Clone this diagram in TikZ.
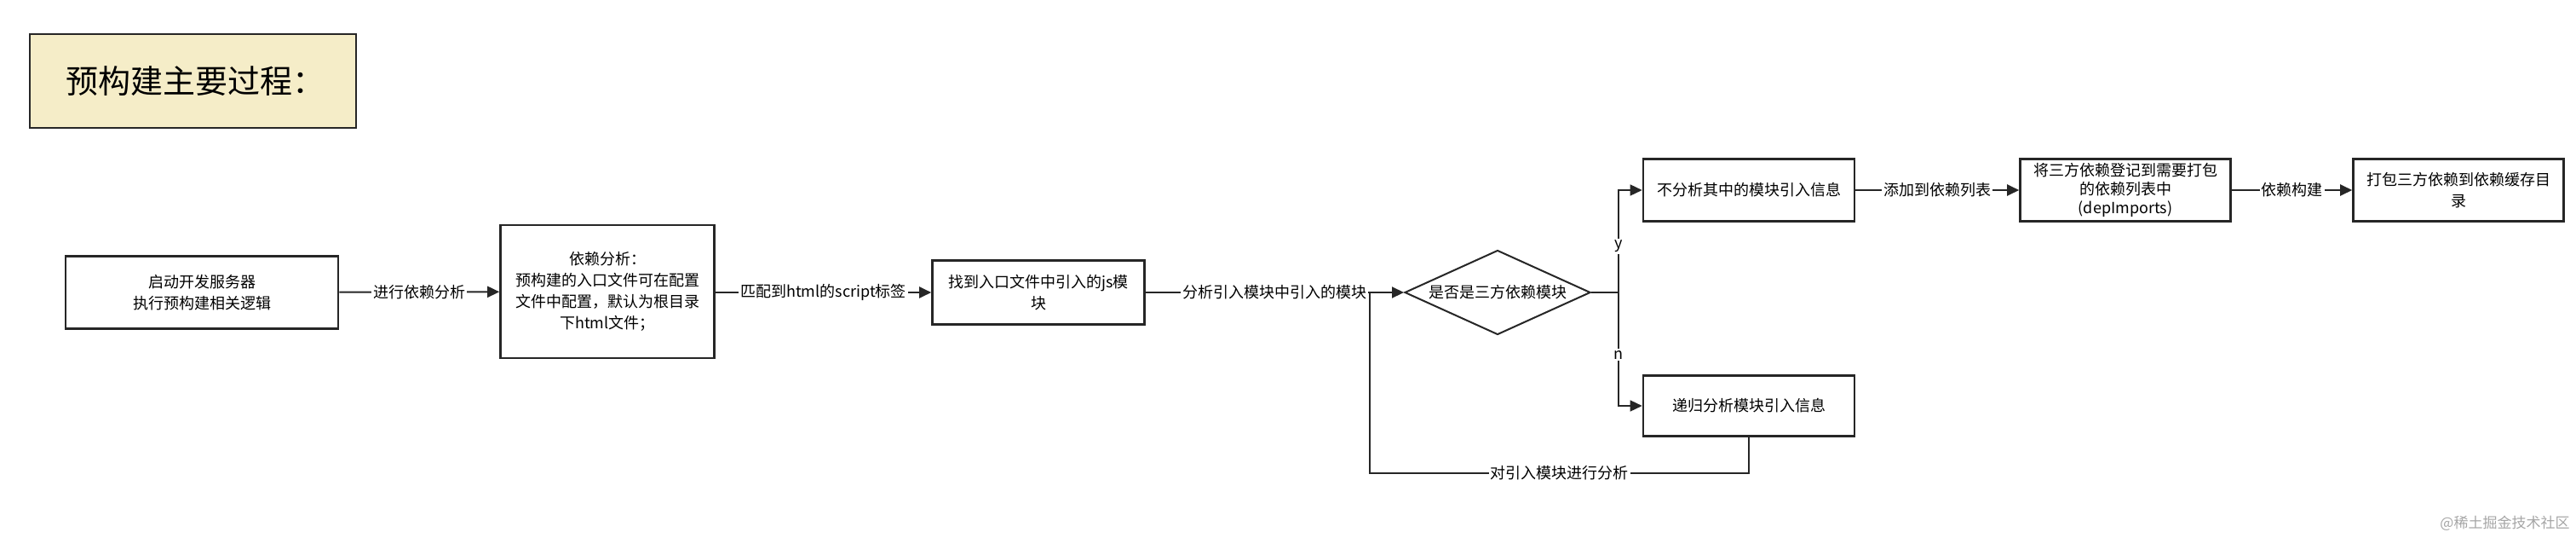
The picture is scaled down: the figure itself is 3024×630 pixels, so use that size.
\documentclass[tikz,border=0pt]{standalone}
\usepackage{fontspec}
\setmainfont{Noto Sans CJK SC}
\usetikzlibrary{shapes.geometric,arrows.meta}
\begin{document}
\begin{tikzpicture}[x=1pt,y=-1pt,
  box/.style={draw=black!85,line width=2.6pt,fill=white,align=center,font=\fontsize{18}{25}\selectfont,inner sep=4pt},
  lbl/.style={fill=white,font=\fontsize{18}{22}\selectfont,inner sep=2pt},
  arr/.style={line width=2pt,draw=black!85,-{Triangle[length=14pt,width=13pt]}},
  thin/.style={line width=1.4pt,draw=black!85}]
\useasboundingbox (0,0) rectangle (3024,630);
\fill[white] (0,0) rectangle (3024,630);
\draw[line width=2.6pt,draw=black!85,fill={rgb,255:red,245;green,237;blue,200}] (35,40) rectangle (418,150);
\node[font=\fontsize{38}{42}\selectfont,anchor=west,inner sep=0pt] (title) at (77,95) {预构建主要过程：};
\node[box,minimum width=320pt,minimum height=85pt] (b1) at (237,343) {启动开发服务器\\执行预构建相关逻辑};
\node[box,minimum width=251pt,minimum height=156pt] (b2) at (713,342) {依赖分析：\\预构建的入口文件可在配置\\文件中配置，默认为根目录\\下html文件；};
\node[box,minimum width=249pt,minimum height=75pt] (b3) at (1219,343) {找到入口文件中引入的js模\\块};
\node[diamond,aspect=2.2,draw=black!85,line width=2pt,minimum width=218pt,minimum height=99pt,inner sep=0pt,font=\fontsize{18}{22}\selectfont] (d) at (1758,343) {是否是三方依赖模块};
\node[box,minimum width=248pt,minimum height=73pt] (y) at (2053,223) {不分析其中的模块引入信息};
\node[box,minimum width=248pt,minimum height=71pt] (n) at (2053,476) {递归分析模块引入信息};
\node[box,minimum width=247pt,minimum height=73pt,font=\fontsize{18}{22}\selectfont,inner sep=2pt] (b5) at (2495,223) {将三方依赖登记到需要打包\\的依赖列表中\\(depImports)};
\node[box,minimum width=247pt,minimum height=73pt] (b6) at (2886,223) {打包三方依赖到依赖缓存目\\录};
\draw[arr] (b1) -- node[lbl]{进行依赖分析} (b2);
\draw[arr] (b2.east|-b1) -- node[lbl]{匹配到html的script标签} (b3.west|-b1);
\draw[arr] (b3) -- node[lbl]{分析引入模块中引入的模块} (d);
\coordinate (br) at (1900,343);
\draw[line width=2pt,draw=black!85] (d.east) -- (br);
\draw[thin,-{Triangle[length=14pt,width=13pt]}] (br) -- node[lbl,pos=0.45]{y} (br|-y) -- (y.west);
\draw[thin,-{Triangle[length=14pt,width=13pt]}] (br) -- node[lbl,pos=0.55]{n} (br|-n) -- (n.west);
\coordinate (lp) at (1608,555);
\draw[thin] (n.south) -- (n.south|-lp) -- node[lbl]{对引入模块进行分析} (lp) -- (lp|-d);
\draw[arr] (y) -- node[lbl]{添加到依赖列表} (b5);
\draw[arr] (b5) -- node[lbl]{依赖构建} (b6);
\node[text=black!35,font=\fontsize{17}{20}\selectfont,anchor=south east] (wm) at (3020,626) {@稀土掘金技术社区};
\end{tikzpicture}
\end{document}
